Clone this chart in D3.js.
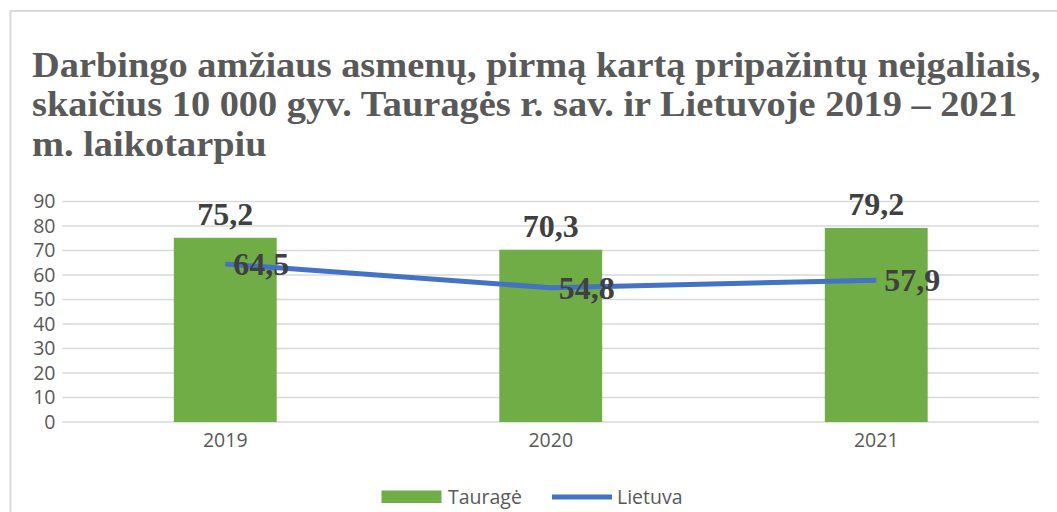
<!DOCTYPE html>
<html>
<head>
<meta charset="utf-8">
<script src="https://cdn.jsdelivr.net/npm/d3@7"></script>
<style>
  body { margin: 0; background: #fff; }
  svg { display: block; }
</style>
</head>
<body>
<svg id="viz" width="1057" height="512"></svg>
<script>
(function () {
  "use strict";

  // Data
  const years = ["2019", "2020", "2021"];
  const taurage = [75.2, 70.3, 79.2];
  const lietuva = [64.5, 54.8, 57.9];
  const yTicks = [0, 10, 20, 30, 40, 50, 60, 70, 80, 90];
  const titleLines = [
    "Darbingo amžiaus asmenų, pirmą kartą pripažintų neįgaliais,",
    "skaičius 10 000 gyv. Tauragės r. sav. ir Lietuvoje 2019 – 2021",
    "m. laikotarpiu"
  ];
  const legendNames = ["Tauragė", "Lietuva"];

  // Layout
  let plot = { left: 62.5, right: 1039, top: 201.5, bottom: 422 };
  const green = "#70AD47", blue = "#4472C4", grid = "#D9D9D9";
  const textGray = "#595959", titleGray = "#595959", labelGray = "#404040";
  const fmt = v => String(v.toFixed(1)).replace(".", ",");

  let svg = d3.select("#viz");

  // chart area border
  svg.append("path")
    .attr("d", "M10.5,512 V11 H1057")
    .attr("fill", "none")
    .attr("stroke", grid)
    .attr("stroke-width", 2);

  // Title (original is a bit wider than Liberation Serif, stretch horizontally)
  svg.append("g")
    .attr("transform", "translate(32,0) scale(1.097,1)")
    .selectAll("text")
    .data(titleLines)
    .enter().append("text")
    .attr("x", 0)
    .attr("y", (d, i) => 77 + i * 39.5)
    .attr("font-family", "'Liberation Serif', 'Times New Roman', serif")
    .attr("font-weight", "bold")
    .attr("font-size", 35)
    .attr("fill", titleGray)
    .text(d => d);

  // Scales
  let x = d3.scaleBand()
    .domain(years)
    .range([plot.left, plot.right])
    .paddingInner(0.684)
    .paddingOuter(0.342);

  let y = d3.scaleLinear()
    .domain([0, 90])
    .range([plot.bottom, plot.top]);

  // Gridlines
  svg.append("g").selectAll("line")
    .data(yTicks)
    .enter().append("line")
    .attr("x1", plot.left)
    .attr("x2", plot.right)
    .attr("y1", d => y(d))
    .attr("y2", d => y(d))
    .attr("stroke", grid)
    .attr("stroke-width", 1.5);

  // Y axis
  let yAxis = d3.axisLeft(y).tickValues(yTicks).tickSize(0).tickPadding(7);
  let ya = svg.append("g")
    .attr("transform", `translate(${plot.left},0)`)
    .call(yAxis);
  ya.select(".domain").remove();
  ya.selectAll("text")
    .attr("font-family", "'Open Sans', sans-serif")
    .attr("font-size", 19.5)
    .attr("fill", textGray);

  // X axis
  let xAxis = d3.axisBottom(x).tickSize(0).tickPadding(11);
  let xa = svg.append("g")
    .attr("transform", `translate(0,${plot.bottom})`)
    .call(xAxis);
  xa.select(".domain").remove();
  xa.selectAll("text")
    .attr("font-family", "'Open Sans', sans-serif")
    .attr("font-size", 19.5)
    .attr("fill", textGray);

  // Bars
  svg.append("g").selectAll("rect")
    .data(taurage)
    .enter().append("rect")
    .attr("x", (d, i) => x(years[i]))
    .attr("y", d => y(d))
    .attr("width", x.bandwidth())
    .attr("height", d => y(0) - y(d))
    .attr("fill", green);

  // Bar labels
  svg.append("g").selectAll("text")
    .data(taurage)
    .enter().append("text")
    .attr("x", (d, i) => x(years[i]) + x.bandwidth() / 2)
    .attr("y", d => y(d) - 13)
    .attr("text-anchor", "middle")
    .attr("font-family", "'Liberation Serif', 'Times New Roman', serif")
    .attr("font-weight", "bold")
    .attr("font-size", 32)
    .attr("fill", labelGray)
    .text(d => fmt(d));

  // Line
  let line = d3.line()
    .x((d, i) => x(years[i]) + x.bandwidth() / 2)
    .y(d => y(d));

  svg.append("path")
    .datum(lietuva)
    .attr("d", line)
    .attr("fill", "none")
    .attr("stroke", blue)
    .attr("stroke-width", 5)
    .attr("stroke-linejoin", "round");

  // Line labels
  svg.append("g").selectAll("text")
    .data(lietuva)
    .enter().append("text")
    .attr("x", (d, i) => x(years[i]) + x.bandwidth() / 2 + 8)
    .attr("y", d => y(d) + 11)
    .attr("font-family", "'Liberation Serif', 'Times New Roman', serif")
    .attr("font-weight", "bold")
    .attr("font-size", 32)
    .attr("fill", labelGray)
    .text(d => fmt(d));

  // Legend
  let legend = svg.append("g");
  legend.append("rect")
    .attr("x", 381.5).attr("y", 490.5)
    .attr("width", 60).attr("height", 12.5)
    .attr("fill", green);
  legend.append("line")
    .attr("x1", 552).attr("x2", 612)
    .attr("y1", 497).attr("y2", 497)
    .attr("stroke", blue).attr("stroke-width", 5);
  legend.selectAll("text")
    .data(legendNames)
    .enter().append("text")
    .attr("x", (d, i) => i === 0 ? 448 : 617)
    .attr("y", 503.5)
    .attr("font-family", "'Open Sans', sans-serif")
    .attr("font-size", 19.5)
    .attr("fill", textGray)
    .text(d => d);

})();
</script>
</body>
</html>
